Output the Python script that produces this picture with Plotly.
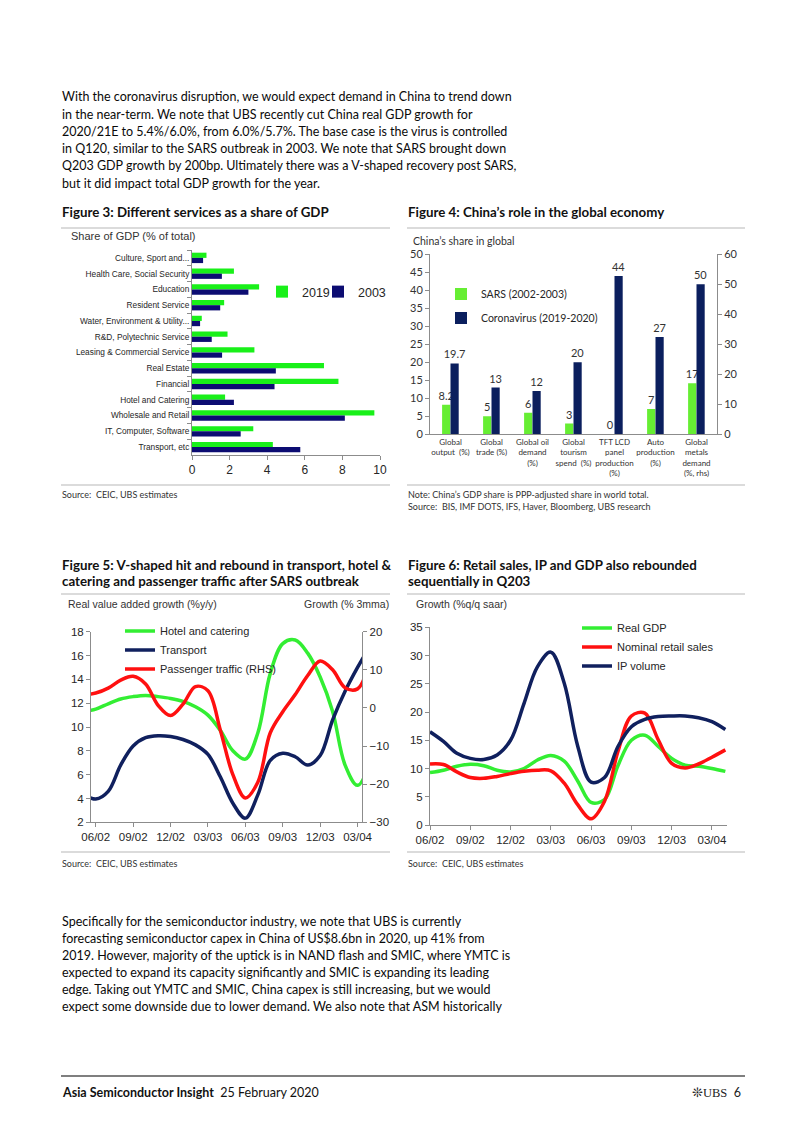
import plotly.graph_objects as go

W, H = 802, 1133
OFF = 8  # page body margin of the html document
def px(x): return (x - OFF) / W
def py(y): return 1 - (y - OFF) / H

# ---------------- DATA ----------------
# Figure 3
f3_categories = ["Culture, Sport and...", "Health Care, Social Security", "Education",
                 "Resident Service", "Water, Environment & Utility...", "R&D, Polytechnic Service",
                 "Leasing & Commercial Service", "Real Estate", "Financial", "Hotel and Catering",
                 "Wholesale and Retail", "IT, Computer, Software", "Transport, etc"]
f3_2019 = [0.77, 2.23, 3.57, 1.71, 0.52, 1.89, 3.32, 7.02, 7.79, 1.76, 9.70, 3.26, 4.30]
f3_2003 = [0.59, 1.59, 3.00, 1.50, 0.43, 1.05, 1.60, 4.46, 4.39, 2.23, 8.13, 2.59, 5.76]

# Figure 4
f4_categories = ["Global<br>output  (%)", "Global<br>trade (%)", "Global oil<br>demand<br>(%)",
                 "Global<br>tourism<br>spend  (%)", "TFT LCD<br>panel<br>production<br>(%)",
                 "Auto<br>production<br>(%)", "Global<br>metals<br>demand<br>(%, rhs)"]
f4_sars = [8.2, 5, 6, 3, 0, 7, 17]
f4_cov = [19.7, 13, 12, 20, 44, 27, 50]
f4_sars_labels = ["8.2", "5", "6", "3", "0", "7", "17"]
f4_cov_labels = ["19.7", "13", "12", "20", "44", "27", "50"]

# Figure 5 (monthly, month 0 = 06/02, first point = 05/02)
f5_x = list(range(-1, 23))
f5_hotel = [11.3, 11.5, 11.95, 12.35, 12.55, 12.65, 12.55, 12.4, 12.15, 11.7, 11.0, 9.7,
            8.0, 7.3, 9.5, 14.5, 17.0, 17.3, 16.2, 14.2, 11.3, 6.8, 5.1, 7.0]
f5_transport = [4.4, 3.95, 4.6, 6.8, 8.4, 9.1, 9.27, 9.2, 8.95, 8.5, 7.7, 5.8,
                3.6, 2.35, 4.3, 7.2, 7.8, 7.5, 6.8, 7.6, 10.6, 13.0, 15.0, 16.8]
f5_passenger = [3.5, 3.9, 5.2, 7.3, 8.3, 6.3, 0.7, -2.0, 1.0, 5.6, 4.5, -5.9,
                -17.5, -23.6, -19.5, -6.5, -1.0, 3.5, 8.5, 12.3, 10.0, 5.3, 5.0, 12.5]

# Figure 6 (monthly, month 0 = 06/02)
f6_x = list(range(0, 23))
f6_gdp = [9.27, 9.7, 10.4, 10.75, 10.5, 9.7, 9.4, 10.0, 11.5, 12.3, 11.3, 7.8,
          4.0, 4.5, 10.5, 15.0, 15.9, 13.9, 11.8, 10.6, 10.4, 10.0, 9.5]
f6_retail = [10.8, 10.7, 9.4, 8.4, 8.26, 8.6, 9.1, 9.5, 9.7, 9.6, 7.4, 3.6,
             1.1, 4.2, 13.0, 19.3, 19.8, 15.1, 10.9, 10.1, 10.8, 12.0, 13.3]
f6_ip = [16.5, 14.8, 12.7, 11.8, 11.6, 12.4, 15.0, 21.5, 28.0, 30.6, 25.1, 14.0,
         7.6, 8.4, 13.9, 17.4, 18.7, 19.2, 19.3, 19.3, 19.0, 18.3, 16.9]

quarter_ticks = [0, 3, 6, 9, 12, 15, 18, 21]
quarter_labels = ["06/02", "09/02", "12/02", "03/03", "06/03", "09/03", "12/03", "03/04"]

para1 = ["With the coronavirus disruption, we would expect demand in China to trend down",
         "in the near-term. We note that UBS recently cut China real GDP growth for",
         "2020/21E to 5.4%/6.0%, from 6.0%/5.7%. The base case is the virus is controlled",
         "in Q120, similar to the SARS outbreak in 2003. We note that SARS brought down",
         "Q203 GDP growth by 200bp. Ultimately there was a V-shaped recovery post SARS,",
         "but it did impact total GDP growth for the year."]
para2 = ["Specifically for the semiconductor industry, we note that UBS is currently",
         "forecasting semiconductor capex in China of US$8.6bn in 2020, up 41% from",
         "2019. However, majority of the uptick is in NAND flash and SMIC, where YMTC is",
         "expected to expand its capacity significantly and SMIC is expanding its leading",
         "edge. Taking out YMTC and SMIC, China capex is still increasing, but we would",
         "expect some downside due to lower demand. We also note that ASM historically"]

# ---------------- STYLE ----------------
BODY = "Lato, 'Open Sans', sans-serif"
ARIAL = "'Liberation Sans', Arial, sans-serif"
TXT = "#262626"
AX = "#8c8c8c"
G3, N3 = "#19f019", "#0c0c72"
G4, N4 = "#66ee33", "#0b1f5e"
GL, NL, RL = "#33ee33", "#10205e", "#ff1010"

fig = go.Figure()

# Figure 3 bars
fig.add_trace(go.Bar(y=f3_categories, x=f3_2019, orientation="h", name="2019",
                     marker_color=G3, xaxis="x", yaxis="y", legend="legend",
                     showlegend=True))
fig.add_trace(go.Bar(y=f3_categories, x=f3_2003, orientation="h", name="2003",
                     marker_color=N3, xaxis="x", yaxis="y", legend="legend5",
                     showlegend=True))

# Figure 4 bars
lbl = dict(textposition="outside", cliponaxis=False, constraintext="none",
           textfont=dict(family=BODY, size=11, color="#333"))
fig.add_trace(go.Bar(x=f4_categories[:6], y=f4_sars[:6], name="SARS (2002-2003)",
                     marker_color=G4, width=0.2, offset=-0.205, xaxis="x2", yaxis="y2",
                     text=f4_sars_labels[:6], legend="legend2", legendgroup="a", **lbl))
fig.add_trace(go.Bar(x=f4_categories[:6], y=f4_cov[:6], name="Coronavirus (2019-2020)",
                     marker_color=N4, width=0.2, offset=0.0, xaxis="x2", yaxis="y2",
                     text=f4_cov_labels[:6], legend="legend2", legendgroup="b", **lbl))
fig.add_trace(go.Bar(x=f4_categories[6:], y=f4_sars[6:], name="SARS (2002-2003)",
                     marker_color=G4, width=0.2, offset=-0.205, xaxis="x2", yaxis="y3",
                     text=f4_sars_labels[6:], showlegend=False, legend="legend2",
                     legendgroup="a", **lbl))
fig.add_trace(go.Bar(x=f4_categories[6:], y=f4_cov[6:], name="Coronavirus (2019-2020)",
                     marker_color=N4, width=0.2, offset=0.0, xaxis="x2", yaxis="y3",
                     text=f4_cov_labels[6:], showlegend=False, legend="legend2",
                     legendgroup="b", **lbl))

# Figure 5 lines
def ln(c):
    return dict(color=c, width=3.5, shape="spline", smoothing=1.0)
fig.add_trace(go.Scatter(x=f5_x, y=f5_hotel, name="Hotel and catering", mode="lines",
                         line=ln(GL), xaxis="x3", yaxis="y4", legend="legend3"))
fig.add_trace(go.Scatter(x=f5_x, y=f5_transport, name="Transport", mode="lines",
                         line=ln(NL), xaxis="x3", yaxis="y4", legend="legend3"))
fig.add_trace(go.Scatter(x=f5_x, y=f5_passenger, name="Passenger traffic (RHS)", mode="lines",
                         line=ln(RL), xaxis="x3", yaxis="y5", legend="legend3"))

# Figure 6 lines
fig.add_trace(go.Scatter(x=f6_x, y=f6_gdp, name="Real GDP", mode="lines",
                         line=ln(GL), xaxis="x4", yaxis="y6", legend="legend4"))
fig.add_trace(go.Scatter(x=f6_x, y=f6_retail, name="Nominal retail sales", mode="lines",
                         line=ln(RL), xaxis="x4", yaxis="y6", legend="legend4"))
fig.add_trace(go.Scatter(x=f6_x, y=f6_ip, name="IP volume", mode="lines",
                         line=ln(NL), xaxis="x4", yaxis="y6", legend="legend4"))

axis_common = dict(showgrid=False, zeroline=False, showline=True, linecolor=AX, linewidth=1,
                   ticks="outside", tickcolor=AX, ticklen=4, automargin=False)

def leg(x, y, size, family=ARIAL, **kw):
    d = dict(x=px(x), y=py(y), xanchor="left", yanchor="middle",
             font=dict(family=family, size=size, color=TXT), bgcolor="rgba(0,0,0,0)",
             borderwidth=0, itemwidth=30, visible=True)
    d.update(kw)
    return d

fig.update_layout(
    template="none", showlegend=True,
    width=W, height=H, margin=dict(l=0, r=0, t=0, b=0, autoexpand=False),
    paper_bgcolor="white", plot_bgcolor="rgba(0,0,0,0)",
    barmode="group", bargap=0.34, bargroupgap=0.0,
    # ---- Figure 3 axes
    xaxis=dict(domain=[px(192), px(380)], range=[0, 10], dtick=2, anchor="y",
               tickfont=dict(family=ARIAL, size=12, color=TXT), **axis_common),
    yaxis=dict(domain=[py(455), py(250)], autorange="reversed", anchor="x",
               tickson="boundaries", tickfont=dict(family=ARIAL, size=8.3, color=TXT),
               **axis_common),
    # ---- Figure 4 axes
    xaxis2=dict(domain=[px(430), px(717)], anchor="y2", type="category",
                categoryorder="array", categoryarray=f4_categories, tickangle=0,
                tickfont=dict(family=BODY, size=8, color="#333"),
                showgrid=False, zeroline=False, showline=True, linecolor=AX, ticks="",
                automargin=False),
    yaxis2=dict(domain=[py(434.3), py(254.3)], range=[0, 50], dtick=5, anchor="x2",
                tickfont=dict(family=BODY, size=11, color="#333"), **axis_common),
    yaxis3=dict(overlaying="y2", side="right", range=[0, 60], dtick=10, anchor="x2",
                tickfont=dict(family=BODY, size=11, color="#333"), **axis_common),
    # ---- Figure 5 axes
    xaxis3=dict(domain=[px(91), px(362.3)], range=[-0.38, 21.38], anchor="y4",
                tickvals=quarter_ticks, ticktext=quarter_labels, tickangle=0,
                tickfont=dict(family=ARIAL, size=11.5, color=TXT), **axis_common),
    yaxis4=dict(domain=[py(822.3), py(631.7)], range=[2, 18], dtick=2, anchor="x3",
                tickfont=dict(family=ARIAL, size=11.5, color=TXT), **axis_common),
    yaxis5=dict(overlaying="y4", side="right", range=[-30, 20], dtick=10, anchor="x3",
                tickfont=dict(family=ARIAL, size=11.5, color=TXT), **axis_common),
    # ---- Figure 6 axes
    xaxis4=dict(domain=[px(430), px(726.7)], range=[0, 22.1], anchor="y6",
                tickvals=quarter_ticks, ticktext=quarter_labels, tickangle=0,
                tickfont=dict(family=ARIAL, size=11.5, color=TXT), **axis_common),
    yaxis6=dict(domain=[py(825), py(627.3)], range=[0, 35], dtick=5, anchor="x4",
                tickfont=dict(family=ARIAL, size=11.5, color=TXT), **axis_common),
    # ---- legends
    legend=leg(262, 292, 12.5),
    legend5=leg(318, 292, 12.5),
    legend2=leg(441, 306, 10.5, family=BODY, tracegroupgap=5),
    legend3=leg(120, 650, 11, tracegroupgap=0),
    legend4=leg(577, 647, 11, tracegroupgap=0),
)

ann = []
def text(x, y, s, size, family=BODY, color=TXT, anchor="left", bold=False):
    if bold:
        s = "<b>" + s + "</b>"
    ann.append(dict(x=px(x), y=py(y), xref="paper", yref="paper", text=s, showarrow=False,
                    xanchor=anchor, yanchor="middle", align=anchor, borderpad=0,
                    font=dict(family=family, size=size, color=color)))

for i, line in enumerate(para1):
    text(61, 96.7 + i * 17.3, line, 12.5, color="#0a0a0a")
for i, line in enumerate(para2):
    text(61, 921.7 + i * 17.0, line, 12.5, color="#0a0a0a")

text(61, 212, "Figure 3: Different services as a share of GDP", 13.3, bold=True, color="#111")
text(407, 212, "Figure 4: China\u2019s role in the global economy", 13.3, bold=True, color="#111")
text(61, 565, "Figure 5: V-shaped hit and rebound in transport, hotel &", 13.3, bold=True, color="#111")
text(61, 581, "catering and passenger traffic after SARS outbreak", 13.3, bold=True, color="#111")
text(407, 565, "Figure 6: Retail sales, IP and GDP also rebounded", 13.3, bold=True, color="#111")
text(407, 581, "sequentially in Q203", 13.3, bold=True, color="#111")

text(70, 236, "Share of GDP (% of total)", 11, family=ARIAL, color="#333")
text(412, 241, "China\u2019s share in global", 10.5, color="#333")
text(67, 604, "Real value added growth (%y/y)", 10.5, family=ARIAL, color="#333")
text(390, 604, "Growth (% 3mma)", 10.5, family=ARIAL, color="#333", anchor="right")
text(415, 604, "Growth (%q/q saar)", 10.5, family=ARIAL, color="#333")

text(61, 494, "Source:  CEIC, UBS estimates", 9, color="#333")
text(407, 494, "Note: China\u2019s GDP share is PPP-adjusted share in world total.", 9, color="#333")
text(407, 506, "Source:  BIS, IMF DOTS, IFS, Haver, Bloomberg, UBS research", 9, color="#333")
text(61, 863, "Source:  CEIC, UBS estimates", 9, color="#333")
text(407, 863, "Source:  CEIC, UBS estimates", 9, color="#333")

text(61, 1092, "<b>Asia Semiconductor Insight</b>  25 February 2020", 12.5, color="#111")
text(742, 1092, "\u274a<span style='font-family:Liberation Serif'>UBS</span>  6", 12.5,
     color="#222", anchor="right")

shapes = []
def hline(x0, x1, y, color="#cfcfcf", width=1.5):
    shapes.append(dict(type="line", xref="paper", yref="paper", x0=px(x0), x1=px(x1),
                       y0=py(y), y1=py(y), line=dict(color=color, width=width)))

hline(61, 390, 228)
hline(407, 745, 228)
hline(61, 390, 485)
hline(407, 745, 485)
hline(61, 390, 594)
hline(407, 745, 594)
hline(61, 390, 852)
hline(407, 745, 852)
hline(61, 745, 1076, color="#555555", width=1.3)

fig.update_layout(annotations=ann, shapes=shapes)
fig.write_html("out.html")
